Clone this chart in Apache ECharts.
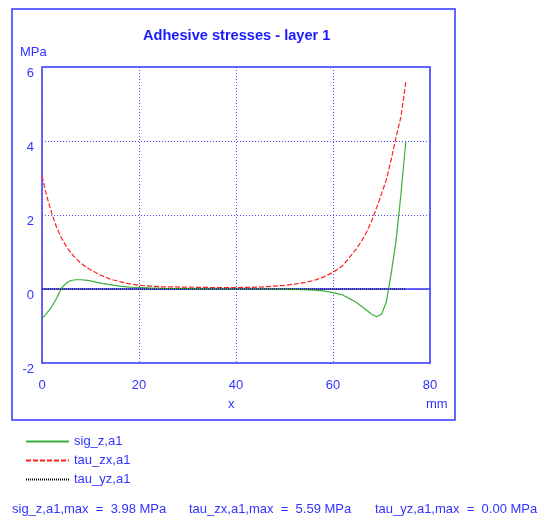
<!DOCTYPE html>
<html>
<head>
<meta charset="utf-8">
<script src="https://cdn.jsdelivr.net/npm/echarts@6/dist/echarts.min.js"></script>
<style>
  html, body { margin: 0; padding: 0; background: #fff; }
  #chart { width: 544px; height: 521px; }
</style>
</head>
<body>
<div id="chart"></div>
<script>
// x positions along the joint (mm)
const xs = [0, 1, 2, 3, 4, 5, 6, 7, 8, 9, 10, 12, 14, 16, 18, 20, 22, 25, 30, 35, 40, 45, 50, 52, 54, 56, 58, 60, 62, 64, 65, 66, 67, 68, 69, 70, 71, 72, 73, 74, 74.5, 75];

// stresses (MPa)
const sigZ = [-0.8, -0.65, -0.48, -0.25, 0.02, 0.16, 0.23, 0.25, 0.25, 0.24, 0.22, 0.16, 0.12, 0.08, 0.05, 0.04, 0.03, 0.02, 0.01, 0, 0, 0, -0.01, -0.01, -0.02, -0.03, -0.05, -0.1, -0.16, -0.3, -0.38, -0.48, -0.58, -0.68, -0.75, -0.68, -0.35, 0.42, 1.3, 2.55, 3.25, 3.98];
const tauZx = [3.05, 2.5, 2.05, 1.67, 1.38, 1.15, 0.97, 0.82, 0.7, 0.6, 0.52, 0.38, 0.27, 0.2, 0.14, 0.1, 0.08, 0.06, 0.05, 0.04, 0.04, 0.05, 0.1, 0.13, 0.17, 0.23, 0.32, 0.45, 0.63, 0.95, 1.12, 1.32, 1.56, 1.85, 2.2, 2.57, 2.95, 3.5, 4.1, 4.65, 5.1, 5.59];
const tauYz = xs.map(() => 0);

const seriesNames = ["sig_z,a1", "tau_zx,a1", "tau_yz,a1"];
const maxTexts = ["sig_z,a1,max  =  3.98 MPa", "tau_zx,a1,max  =  5.59 MPa", "tau_yz,a1,max  =  0.00 MPa"];

const xTicks = { min: 0, max: 80, interval: 20 };
const yTicks = { min: -2, max: 6, interval: 2 };

const pair = arr => xs.map((x, i) => [x, arr[i]]);

const BLUE = '#3333ff';
const FONT = 'Liberation Sans';
const textFont = '13px "Liberation Sans"';

const chart = echarts.init(document.getElementById('chart'));
chart.setOption({
  animation: false,
  textStyle: { fontFamily: FONT },
  title: {
    text: 'Adhesive stresses - layer 1',
    left: 138,
    top: 23,
    textStyle: { color: '#1a1aff', fontSize: 14.6, fontWeight: 'bold', fontFamily: FONT }
  },
  grid: {
    left: 42, top: 67, width: 388, height: 296,
    show: true, borderColor: BLUE, borderWidth: 1.5, backgroundColor: '#fff'
  },
  legend: {
    orient: 'vertical',
    left: 20,
    top: 430,
    itemWidth: 43,
    itemHeight: 14,
    itemGap: 6,
    data: seriesNames,
    itemStyle: { opacity: 0 },
    textStyle: { color: BLUE, fontSize: 13, fontFamily: FONT, padding: [4, 0, 0, 0] }
  },
  xAxis: {
    type: 'value',
    min: xTicks.min, max: xTicks.max, interval: xTicks.interval,
    axisLine: { show: false },
    axisTick: { show: false },
    axisLabel: { color: BLUE, fontSize: 13, margin: 16, fontFamily: FONT },
    splitLine: { lineStyle: { color: '#4d4dff', type: [1, 2], width: 1 } }
  },
  yAxis: {
    type: 'value',
    min: yTicks.min, max: yTicks.max, interval: yTicks.interval,
    axisLine: { show: false },
    axisTick: { show: false },
    axisLabel: { color: BLUE, fontSize: 13, margin: 8, verticalAlign: 'top', fontFamily: FONT },
    splitLine: { lineStyle: { color: '#4d4dff', type: [1, 2], width: 1 } }
  },
  series: [
    {
      name: 'zero',
      type: 'line',
      data: [],
      silent: true,
      z: 1,
      markLine: {
        silent: true,
        z: 1,
        symbol: 'none',
        label: { show: false },
        lineStyle: { color: BLUE, type: 'solid', width: 1.5 },
        data: [{ yAxis: 0 }]
      }
    },
    {
      name: seriesNames[0],
      type: 'line',
      symbol: 'none',
      z: 3,
      data: pair(sigZ),
      lineStyle: { color: '#3cb03c', width: 1.2 },
      itemStyle: { color: '#3cb03c' }
    },
    {
      name: seriesNames[1],
      type: 'line',
      symbol: 'none',
      z: 4,
      data: pair(tauZx),
      lineStyle: { color: '#ff2020', width: 1.2, type: [5, 2] },
      itemStyle: { color: '#ff2020' }
    },
    {
      name: seriesNames[2],
      type: 'line',
      symbol: 'none',
      z: 3,
      data: pair(tauYz),
      lineStyle: { color: '#000', width: 1.2, type: [1, 1] },
      itemStyle: { color: '#000' }
    }
  ],
  graphic: [
    { type: 'rect', shape: { x: 12, y: 9, width: 443, height: 411 }, style: { fill: 'none', stroke: BLUE, lineWidth: 1.5 }, z: -10 },
    { type: 'text', left: 20, top: 46, style: { text: 'MPa', fill: BLUE, font: textFont } },
    { type: 'text', left: 228, top: 398, style: { text: 'x', fill: BLUE, font: textFont } },
    { type: 'text', left: 426, top: 398, style: { text: 'mm', fill: BLUE, font: textFont } },
    { type: 'text', left: 12, top: 503, style: { text: maxTexts[0], fill: BLUE, font: textFont } },
    { type: 'text', left: 189, top: 503, style: { text: maxTexts[1], fill: BLUE, font: textFont } },
    { type: 'text', left: 375, top: 503, style: { text: maxTexts[2], fill: BLUE, font: textFont } }
  ]
});
</script>
</body>
</html>
